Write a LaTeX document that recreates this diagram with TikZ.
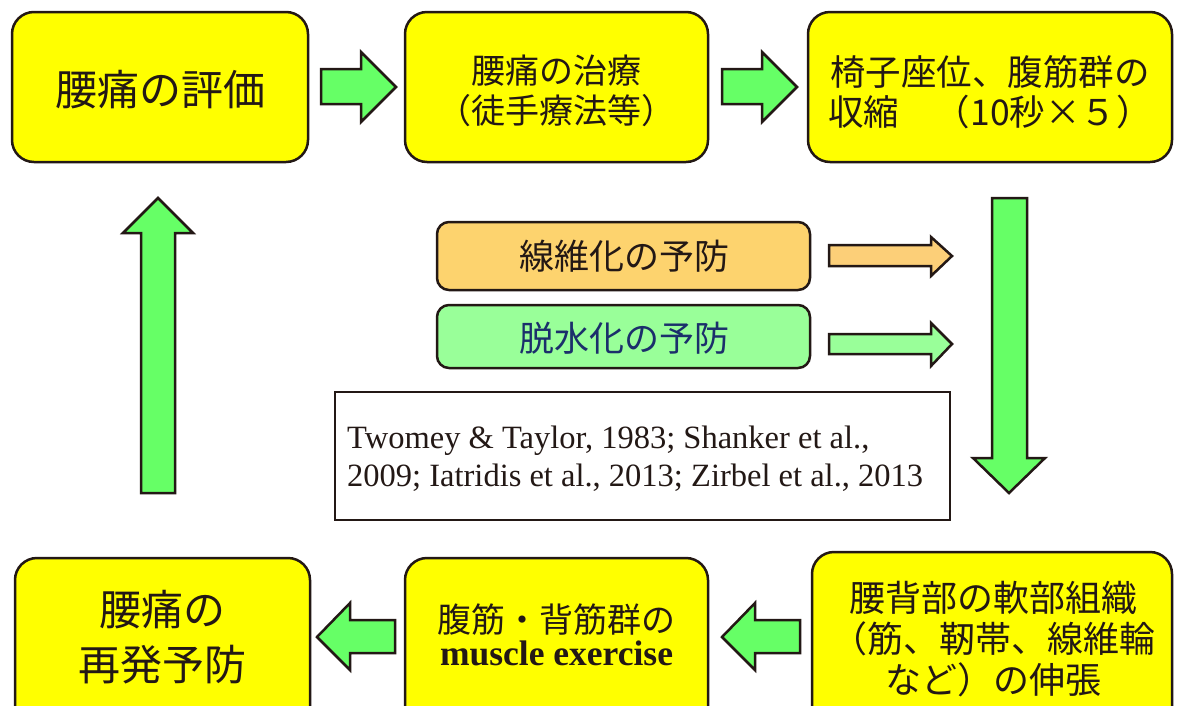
\documentclass[tikz,border=0pt]{standalone}
\usepackage{fontspec}
\setmainfont{Liberation Serif}
\newfontfamily\jp{Noto Sans CJK JP}
\definecolor{boxyellow}{HTML}{FFFF00}
\definecolor{arrowgreen}{HTML}{66FF66}
\definecolor{lineblack}{HTML}{231815}
\definecolor{boxorange}{HTML}{FDD36E}
\definecolor{arroworange}{HTML}{FCCF78}
\definecolor{boxgreen}{HTML}{99FF99}
\definecolor{navytext}{HTML}{1B2F6B}
\begin{document}
\begin{tikzpicture}[x=1pt,y=-1pt,
  ybox/.style={draw=lineblack, line width=2.5pt, fill=boxyellow, rounded corners=22pt, rectangle, inner sep=0pt},
  sbox/.style={draw=lineblack, line width=2.5pt, rounded corners=12pt, rectangle, inner sep=0pt},
  refbox/.style={draw=lineblack, line width=1.2pt, fill=white, rectangle, inner sep=0pt},
  jtext/.style={text=lineblack, align=center, inner sep=0pt},
  barrow/.style={draw=lineblack, line width=2.5pt, fill=arrowgreen, line join=miter},
  oarrow/.style={draw=lineblack, line width=2.5pt, fill=arroworange, line join=miter},
  garrow/.style={draw=lineblack, line width=2.5pt, fill=boxgreen, line join=miter}]
\clip (0,0) rectangle (1177,705);
\fill[white] (0,0) rectangle (1177,705);

% top row boxes
\node[ybox, minimum width=296pt, minimum height=150pt] (b1) at (160,87) {};
\node[ybox, minimum width=303pt, minimum height=150pt] (b2) at (556.5,87) {};
\node[ybox, minimum width=364pt, minimum height=150pt] (b3) at (990,87) {};
% bottom row boxes
\node[ybox, minimum width=295pt, minimum height=172pt] (b6) at (162.5,644) {};
\node[ybox, minimum width=303pt, minimum height=172pt] (b5) at (556.5,644) {};
\node[ybox, minimum width=360pt, minimum height=178pt] (b4) at (992,641) {};
% middle boxes
\node[sbox, fill=boxorange, minimum width=373pt, minimum height=68pt] (bo) at (623.5,256) {};
\node[sbox, fill=boxgreen, minimum width=373pt, minimum height=63pt] (bg) at (623.5,336.5) {};
\node[refbox, minimum width=615pt, minimum height=128pt] (br) at (642.5,456) {};

% texts
\node[jtext, font=\jp\fontsize{42}{48}\selectfont] (t1) at (160,90) {腰痛の評価};
\node[jtext, font=\jp\fontsize{34}{40}\selectfont] (t2) at (556.5,91) {腰痛の治療\\（徒手療法等）};
\node[jtext, font=\jp\fontsize{35.5}{40}\selectfont] (t3) at (990,92) {椅子座位、腹筋群の\\収縮　（10秒×５）};
\node[jtext, font=\jp\fontsize{36}{41}\selectfont] (t4) at (993,639) {腰背部の軟部組織\\（筋、靭帯、線維輪\\など）の伸張};
\node[jtext] (t5) at (556.5,635) {{\jp\fontsize{34}{43}\selectfont 腹筋・背筋群の}\\[4pt]{\fontsize{35.5}{40}\selectfont\bfseries muscle exercise}};
\node[jtext, font=\jp\fontsize{42}{55}\selectfont] (t6) at (162,637) {腰痛の\\再発予防};
\node[jtext, font=\jp\fontsize{35}{40}\selectfont] (to) at (624,256) {線維化の予防};
\node[jtext, text=navytext, font=\jp\fontsize{35}{40}\selectfont] (tg) at (624,338) {脱水化の予防};
\node[jtext, align=left, anchor=west, font=\fontsize{32.5}{38}\selectfont] (tr) at (347,459) {Twomey \& Taylor, 1983; Shanker et al.,\\2009; Iatridis et al., 2013; Zirbel et al., 2013};

% block arrows
\draw[barrow] (321,69) -- (361,69) -- (361,52) -- (396,87) -- (361,122) -- (361,104) -- (321,104) -- cycle;
\draw[barrow] (722,69) -- (762,69) -- (762,52) -- (797,87) -- (762,122) -- (762,104) -- (722,104) -- cycle;
\draw[barrow] (992,198) -- (1027,198) -- (1027,458) -- (1045,458) -- (1009,493) -- (973,458) -- (992,458) -- cycle;
\draw[barrow] (395,620) -- (350,620) -- (350,603) -- (317,637) -- (350,670) -- (350,653) -- (395,653) -- cycle;
\draw[barrow] (800,620) -- (755,620) -- (755,603) -- (722,637) -- (755,670) -- (755,653) -- (800,653) -- cycle;
\draw[barrow] (141,493) -- (141,233) -- (123,233) -- (158,198) -- (193,233) -- (175,233) -- (175,493) -- cycle;
\draw[oarrow] (829,245) -- (931,245) -- (931,237) -- (952,256) -- (931,276) -- (931,266) -- (829,266) -- cycle;
\draw[garrow] (829,334) -- (931,334) -- (931,323) -- (952,344) -- (931,366) -- (931,354) -- (829,354) -- cycle;
\end{tikzpicture}
\end{document}
